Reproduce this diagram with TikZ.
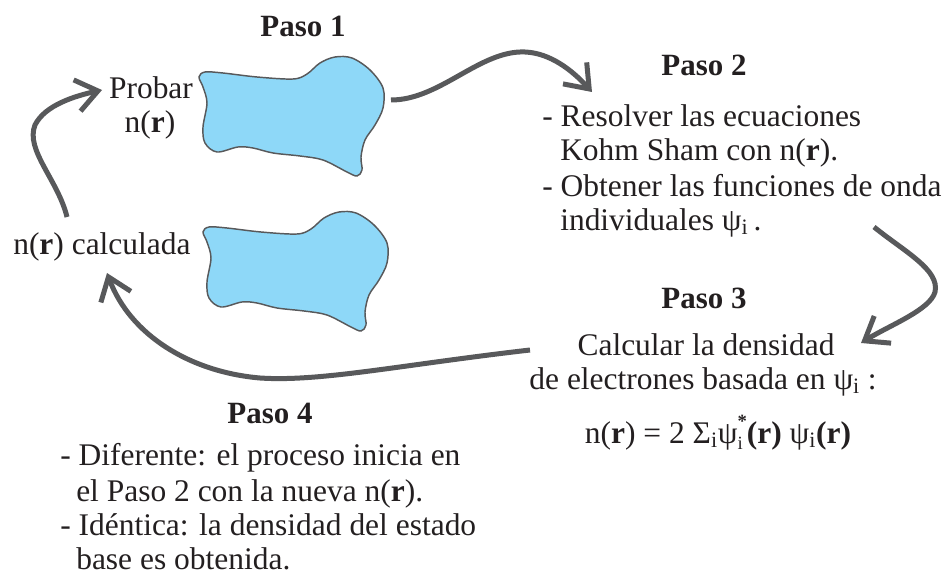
\documentclass[tikz,border=0pt]{standalone}
\usepackage{fontspec}
\setmainfont{Liberation Serif}
\usetikzlibrary{arrows.meta}
\definecolor{txt}{HTML}{231F20}
\definecolor{arr}{HTML}{58595B}
\definecolor{blobfill}{HTML}{8ED8F8}
\newcommand{\rr}{\textbf{r}}
\newcommand{\subsup}[2]{\rlap{\raisebox{-0.45ex}{\fontsize{14}{14}\selectfont #1}}\raisebox{1.05ex}{\fontsize{14}{14}\selectfont #2}}
\begin{document}
\begin{tikzpicture}[x=0.75pt,y=-0.75pt,
  every node/.style={inner sep=0pt, text=txt, font=\fontsize{23.6}{27}\selectfont},
  head/.style={font=\fontsize{23.2}{27}\selectfont\bfseries},
  flow/.style={draw=arr, line width=3.75pt, -{Straight Barb[length=16pt,width=24pt]}},
  blob/.style={draw=arr, fill=blobfill, line width=1.1pt}]
\path[use as bounding box] (0,0) rectangle (949,574);

% blobs
\draw[blob] plot[smooth cycle, tension=0.55] coordinates {
  (205,72) (223,73) (257,77) (293,79) (307,74) (320,63) (335,57) (352,58)
  (370,70) (383,88) (383,108) (375,125) (365,140) (361,157) (362,170)
  (357,176) (347,172) (323,160) (300,156) (273,153) (253,148) (238,147)
  (217,152) (205,143) (203,127) (207,103) (203,87) (199,77)};
\begin{scope}[shift={(4,155)}]
\draw[blob] plot[smooth cycle, tension=0.55] coordinates {
  (205,72) (223,73) (257,77) (293,79) (307,74) (320,63) (335,57) (352,58)
  (370,70) (383,88) (383,108) (375,125) (365,140) (361,157) (362,170)
  (357,176) (347,172) (323,160) (300,156) (273,153) (253,148) (238,147)
  (217,152) (205,143) (203,127) (207,103) (203,87) (199,77)};
\end{scope}

% texts
\node[head, anchor=base] (p1) at (303,37) {Paso 1};
\node[anchor=base] (prob) at (151,99) {Probar};
\node[anchor=base] (probn) at (150,133) {n(\rr)};
\node[anchor=base west] (calc) at (13,254) {n(\rr) calculada};

\node[head, anchor=base] (p2) at (704,76) {Paso 2};
\node[anchor=base west] (p2a) at (542,127) {- Resolver las ecuaciones};
\node[anchor=base west] (p2b) at (560,161) {Kohm Sham con n(\rr).};
\node[anchor=base west] (p2c) at (542,196) {- Obtener las funciones de onda};
\node[anchor=base west] (p2d) at (560,230) {individuales ψ\textsubscript{i}\,.};

\node[head, anchor=base] (p3) at (704,308) {Paso 3};
\node[anchor=base] (p3a) at (706,355) {Calcular la densidad};
\node[anchor=base] (p3b) at (703,389) {de electrones basada en ψ\textsubscript{i} :};
\node[anchor=base] (p3c) at (718,443) {n(\rr) = 2 Σ\textsubscript{i}ψ\subsup{i}{\textbf{*}}\textbf{(r)} ψ\textsubscript{i}\textbf{(r)}};

\node[head, anchor=base] (p4) at (270,423) {Paso 4};
\node[anchor=base west] (p4a) at (60,465) {- Diferente: el proceso inicia en};
\node[anchor=base west] (p4b) at (76,501) {el Paso 2 con la nueva n(\rr).};
\node[anchor=base west] (p4c) at (60,535) {- Idéntica: la densidad del estado};
\node[anchor=base west] (p4d) at (76,569) {base es obtenida.};

% arrows
\coordinate (a1s) at (391,100);
\coordinate (a1e) at (592,92);
\coordinate (a2s) at (874,227);
\coordinate (a2e) at (861,343);
\coordinate (a3s) at (530,350);
\coordinate (a3e) at (107,273);
\coordinate (a4s) at (67,217);
\coordinate (a4e) at (102,90);
\draw[flow] (a1s) .. controls (440,100) and (480,50) .. (525,52) .. controls (550,53) and (572,70) .. (a1e);
\draw[flow] (a2s) .. controls (905,252) and (940,270) .. (935,292) .. controls (930,310) and (890,325) .. (a2e);
\draw[flow] (a3s) .. controls (400,365) and (320,382) .. (260,378) .. controls (190,372) and (130,335) .. (a3e);
\draw[flow] (a4s) .. controls (58,180) and (25,150) .. (35,125) .. controls (45,105) and (75,96) .. (a4e);
\end{tikzpicture}
\end{document}
